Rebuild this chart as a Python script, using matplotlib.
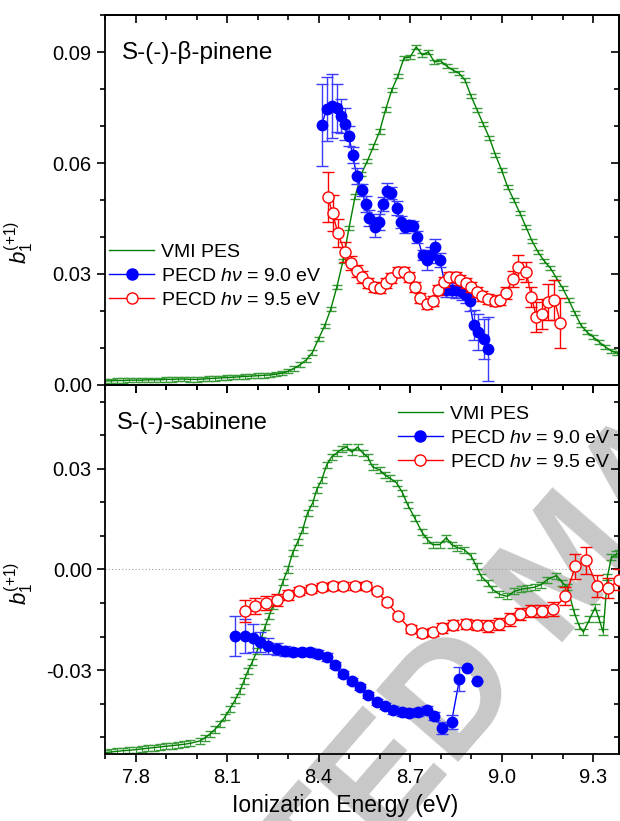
import matplotlib
matplotlib.use('Agg')
import matplotlib.pyplot as plt
from matplotlib.ticker import MultipleLocator, FormatStrFormatter
from matplotlib.lines import Line2D

plt.rcParams['font.family'] = ['Liberation Sans', 'DejaVu Sans']
plt.rcParams['mathtext.fontset'] = 'custom'
plt.rcParams['mathtext.rm'] = 'Liberation Sans'
plt.rcParams['mathtext.it'] = 'Liberation Sans:italic'
plt.rcParams['axes.unicode_minus'] = False

# ---- top panel: S-(-)-beta-pinene ----
pes_top_e = [7.70, 7.72, 7.74, 7.76, 7.78, 7.80, 7.82, 7.84, 7.86, 7.88, 7.90, 7.92,
             7.94, 7.96, 7.98, 8.00, 8.02, 8.04, 8.06, 8.08, 8.10, 8.12, 8.14, 8.16,
             8.18, 8.20, 8.22, 8.24, 8.26, 8.28, 8.30, 8.32, 8.34, 8.36, 8.38, 8.40,
             8.42, 8.44, 8.46, 8.48, 8.50, 8.52, 8.54, 8.56, 8.58, 8.60, 8.62, 8.64,
             8.66, 8.68, 8.70, 8.72, 8.74, 8.76, 8.78, 8.80, 8.82, 8.84, 8.86, 8.88,
             8.90, 8.92, 8.94, 8.96, 8.98, 9.00, 9.02, 9.04, 9.06, 9.08, 9.10, 9.12,
             9.14, 9.16, 9.18, 9.20, 9.22, 9.24, 9.26, 9.28, 9.30, 9.32, 9.34, 9.36,
             9.38]
pes_top = [0.0011, 0.0011, 0.0012, 0.0012, 0.0013, 0.0013, 0.0013, 0.0014, 0.0014,
           0.0014, 0.0015, 0.0015, 0.0016, 0.0016, 0.0015, 0.0015, 0.0016, 0.0017,
           0.0018, 0.0019, 0.0020, 0.0021, 0.0022, 0.0023, 0.0024, 0.0025, 0.0026,
           0.0027, 0.0029, 0.0032, 0.0037, 0.0045, 0.0055, 0.0068, 0.0088, 0.0125,
           0.0160, 0.0205, 0.0265, 0.0335, 0.0425, 0.0510, 0.0570, 0.0605, 0.0645,
           0.0685, 0.0745, 0.0797, 0.0835, 0.0884, 0.0886, 0.0914, 0.0892, 0.0900,
           0.0873, 0.0876, 0.0862, 0.0851, 0.0843, 0.0824, 0.0781, 0.0743, 0.0705,
           0.0668, 0.0622, 0.0581, 0.0535, 0.0500, 0.0465, 0.0427, 0.0389, 0.0359,
           0.0335, 0.0316, 0.0289, 0.0262, 0.0230, 0.0195, 0.0162, 0.0143, 0.0130,
           0.0116, 0.0103, 0.0092, 0.0086]
pes_top_err = 0.0006

b90_top_e = [8.410, 8.427, 8.443, 8.459, 8.473, 8.486, 8.499, 8.512, 8.525, 8.541,
             8.554, 8.567, 8.584, 8.597, 8.610, 8.623, 8.639, 8.656, 8.669, 8.682,
             8.698, 8.711, 8.724, 8.741, 8.754, 8.770, 8.783, 8.797, 8.819, 8.836,
             8.852, 8.869, 8.882, 8.895, 8.908, 8.924, 8.941, 8.954]
b90_top = [0.0703, 0.0746, 0.0754, 0.0749, 0.0727, 0.0705, 0.0673, 0.0622, 0.0565,
           0.0527, 0.0489, 0.0451, 0.0427, 0.0441, 0.0489, 0.0524, 0.0519, 0.0478,
           0.0441, 0.0427, 0.0432, 0.0430, 0.0400, 0.0351, 0.0338, 0.0351, 0.0373,
           0.0338, 0.0257, 0.0257, 0.0257, 0.0251, 0.0243, 0.0227, 0.0162, 0.0143,
           0.0124, 0.0097]
b90_top_err = [0.0111, 0.0086, 0.0086, 0.0065, 0.0046, 0.0043, 0.0027, 0.0022, 0.0022,
               0.0016, 0.0022, 0.0022, 0.0027, 0.0022, 0.0019, 0.0022, 0.0016, 0.0019,
               0.0016, 0.0016, 0.0014, 0.0014, 0.0016, 0.0014, 0.0027, 0.0022, 0.0022,
               0.0019, 0.0019, 0.0019, 0.0022, 0.0022, 0.0022, 0.0027, 0.0040, 0.0049,
               0.0054, 0.0086]

b95_top_e = [8.430, 8.446, 8.463, 8.486, 8.505, 8.525, 8.541, 8.561, 8.581, 8.600,
             8.620, 8.639, 8.659, 8.679, 8.695, 8.715, 8.734, 8.754, 8.774, 8.790,
             8.810, 8.829, 8.849, 8.865, 8.885, 8.901, 8.921, 8.937, 8.957, 8.977,
             8.996, 9.016, 9.036, 9.055, 9.081, 9.098, 9.114, 9.134, 9.153, 9.173,
             9.193]
b95_top = [0.0508, 0.0465, 0.0411, 0.0359, 0.0330, 0.0308, 0.0292, 0.0276, 0.0265,
           0.0262, 0.0276, 0.0289, 0.0305, 0.0305, 0.0292, 0.0265, 0.0235, 0.0219,
           0.0227, 0.0257, 0.0278, 0.0292, 0.0292, 0.0284, 0.0276, 0.0265, 0.0251,
           0.0241, 0.0232, 0.0227, 0.0230, 0.0249, 0.0286, 0.0319, 0.0305, 0.0238,
           0.0184, 0.0192, 0.0224, 0.0230, 0.0168]
b95_top_err = [0.0068, 0.0049, 0.0038, 0.0027, 0.0019, 0.0016, 0.0016, 0.0014, 0.0014,
               0.0014, 0.0014, 0.0014, 0.0014, 0.0014, 0.0014, 0.0014, 0.0014, 0.0014,
               0.0014, 0.0014, 0.0014, 0.0014, 0.0014, 0.0014, 0.0014, 0.0014, 0.0014,
               0.0014, 0.0014, 0.0014, 0.0014, 0.0016, 0.0022, 0.0032, 0.0027, 0.0027,
               0.0041, 0.0041, 0.0049, 0.0054, 0.0068]

# ---- bottom panel: S-(-)-sabinene ----
pes_bot_e = [7.70, 7.72, 7.74, 7.76, 7.78, 7.80, 7.82, 7.84, 7.86, 7.88, 7.90, 7.92,
             7.94, 7.96, 7.98, 8.011, 8.027, 8.044, 8.060, 8.076, 8.093, 8.109, 8.126,
             8.142, 8.155, 8.168, 8.183, 8.198, 8.211, 8.224, 8.237, 8.250, 8.263,
             8.283, 8.299, 8.315, 8.332, 8.348, 8.364, 8.381, 8.394, 8.410, 8.427,
             8.443, 8.459, 8.476, 8.492, 8.509, 8.528, 8.545, 8.561, 8.577, 8.600,
             8.617, 8.633, 8.656, 8.675, 8.692, 8.715, 8.738, 8.757, 8.774, 8.797,
             8.819, 8.836, 8.855, 8.878, 8.901, 8.918, 8.934, 8.954, 8.970, 8.993,
             9.019, 9.042, 9.065, 9.085, 9.108, 9.130, 9.150, 9.180, 9.199, 9.216,
             9.238, 9.255, 9.268, 9.288, 9.307, 9.320, 9.333, 9.347, 9.360, 9.376,
             9.386]
pes_bot = [-0.0546, -0.0544, -0.0542, -0.0540, -0.0539, -0.0537, -0.0535, -0.0533,
           -0.0531, -0.0529, -0.0527, -0.0525, -0.0523, -0.0521, -0.0518, -0.0511,
           -0.0502, -0.0490, -0.0477, -0.0460, -0.0440, -0.0416, -0.0390, -0.0362,
           -0.0333, -0.0303, -0.0275, -0.0244, -0.0210, -0.0172, -0.0140, -0.0110,
           -0.0089, -0.0036, 0.0000, 0.0050, 0.0083, 0.0119, 0.0169, 0.0199, 0.0238,
           0.0267, 0.0312, 0.0336, 0.0347, 0.0359, 0.0365, 0.0350, 0.0365, 0.0347,
           0.0336, 0.0306, 0.0297, 0.0282, 0.0273, 0.0258, 0.0229, 0.0193, 0.0154,
           0.0113, 0.0089, 0.0074, 0.0074, 0.0095, 0.0074, 0.0065, 0.0059, 0.0039,
           0.0009, -0.0021, -0.0039, -0.0059, -0.0074, -0.0080, -0.0065, -0.0059,
           -0.0056, -0.0053, -0.0045, -0.0030, -0.0018, -0.0039, -0.0053, -0.0128,
           -0.0169, -0.0187, -0.0149, -0.0113, -0.0149, -0.0187, -0.0021, 0.0036,
           0.0045, 0.0048]
pes_bot_err = 0.0009

b90_bot_e = [8.126, 8.158, 8.184, 8.207, 8.234, 8.263, 8.289, 8.315, 8.345, 8.371,
             8.397, 8.427, 8.453, 8.479, 8.509, 8.535, 8.561, 8.590, 8.617, 8.643,
             8.672, 8.698, 8.725, 8.754, 8.780, 8.806, 8.836, 8.862, 8.888, 8.918]
b90_bot = [-0.0199, -0.0199, -0.0205, -0.0217, -0.0229, -0.0238, -0.0244, -0.0247,
           -0.0247, -0.0247, -0.0252, -0.0261, -0.0285, -0.0312, -0.0333, -0.0350,
           -0.0374, -0.0395, -0.0407, -0.0419, -0.0425, -0.0428, -0.0425, -0.0419,
           -0.0437, -0.0472, -0.0454, -0.0327, -0.0294, -0.0333]
b90_bot_err = [0.0059, 0.0050, 0.0042, 0.0030, 0.0024, 0.0018, 0.0015, 0.0012, 0.0012,
               0.0012, 0.0012, 0.0012, 0.0009, 0.0009, 0.0009, 0.0009, 0.0009, 0.0009,
               0.0009, 0.0012, 0.0012, 0.0012, 0.0012, 0.0012, 0.0012, 0.0018, 0.0021,
               0.0036, 0.0, 0.0]
b90_bot_nline = 28   # last two points are not joined by the line

b95_bot_e = [8.158, 8.191, 8.227, 8.263, 8.299, 8.335, 8.374, 8.410, 8.446, 8.479,
             8.518, 8.554, 8.590, 8.626, 8.662, 8.702, 8.738, 8.774, 8.806, 8.842,
             8.882, 8.918, 8.954, 8.990, 9.026, 9.062, 9.098, 9.134, 9.170, 9.209,
             9.242, 9.278, 9.314, 9.350, 9.386]
b95_bot = [-0.0125, -0.0110, -0.0101, -0.0092, -0.0077, -0.0065, -0.0059, -0.0053,
           -0.0050, -0.0048, -0.0048, -0.0050, -0.0065, -0.0098, -0.0140, -0.0178,
           -0.0190, -0.0187, -0.0175, -0.0166, -0.0163, -0.0166, -0.0169, -0.0163,
           -0.0149, -0.0134, -0.0125, -0.0125, -0.0119, -0.0080, 0.0009, 0.0027,
           -0.0050, -0.0056, -0.0030]
b95_bot_err = [0.0033, 0.0024, 0.0021, 0.0018, 0.0015, 0.0012, 0.0012, 0.0012, 0.0012,
               0.0012, 0.0012, 0.0012, 0.0009, 0.0009, 0.0009, 0.0012, 0.0012, 0.0012,
               0.0015, 0.0015, 0.0015, 0.0015, 0.0018, 0.0018, 0.0018, 0.0018, 0.0018,
               0.0018, 0.0021, 0.0027, 0.0036, 0.0039, 0.0033, 0.0030, 0.0030]

labels = ['VMI PES', r'PECD $h\nu$ = 9.0 eV', r'PECD $h\nu$ = 9.5 eV']
titles = ['S-(-)-β-pinene', 'S-(-)-sabinene']

GREEN = '#008000'
BLUE = '#0000ff'
RED = '#ff0000'

fig = plt.figure(figsize=(6.2, 8.21), dpi=100)
ax1 = fig.add_axes([0.1694, 0.5311, 0.8290, 0.4506])
ax2 = fig.add_axes([0.1694, 0.0816, 0.8290, 0.4495])
for ax in (ax1, ax2):
    ax.patch.set_alpha(0)

# watermark behind the data (mostly outside the canvas, as in the original)
fig.text(0.922, 0.305, 'ACCEPTED MANUSCRIPT', rotation=49, fontsize=114,
         fontweight='bold', color='#c8c8c8', ha='center', va='center',
         rotation_mode='anchor', zorder=-5)


def draw(ax, pe, py, perr, be, by, berr, re, ry, rerr, nline=None):
    nline = len(be) if nline is None else nline
    ax.errorbar(pe, py, yerr=perr, color=GREEN, lw=1.0, ecolor='#3c9c3c',
                elinewidth=0.8, capsize=3.5, capthick=1.0, zorder=2)
    ax.plot(be[:nline], by[:nline], color=BLUE, lw=1.0, zorder=3)
    ax.errorbar(be, by, yerr=berr, ls='none', marker='o', ms=7.5,
                mfc=BLUE, mec=BLUE, ecolor='#3c3cff', elinewidth=1.0,
                capsize=4, capthick=1.0, zorder=3)
    ax.errorbar(re, ry, yerr=rerr, color=RED, lw=1.0, marker='o', ms=8,
                mfc='white', mec=RED, mew=1.0, ecolor=RED, elinewidth=1.0,
                capsize=4, capthick=1.0, zorder=4)


draw(ax1, pes_top_e, pes_top, pes_top_err, b90_top_e, b90_top, b90_top_err,
     b95_top_e, b95_top, b95_top_err)
draw(ax2, pes_bot_e, pes_bot, pes_bot_err, b90_bot_e, b90_bot, b90_bot_err,
     b95_bot_e, b95_bot, b95_bot_err, nline=b90_bot_nline)

ax2.axhline(0, color='#a0a0a0', lw=0.8, ls=(0, (1, 2)), zorder=1)

ax1.set_ylim(0, 0.1)
ax2.set_ylim(-0.055, 0.055)
for ax in (ax1, ax2):
    ax.set_xlim(7.7, 9.385)
    ax.xaxis.set_major_locator(MultipleLocator(0.3))
    ax.xaxis.set_minor_locator(MultipleLocator(0.1))
    ax.yaxis.set_major_locator(MultipleLocator(0.03))
    ax.yaxis.set_minor_locator(MultipleLocator(0.01))
    ax.yaxis.set_major_formatter(FormatStrFormatter('%.2f'))
    ax.xaxis.set_major_formatter(FormatStrFormatter('%.1f'))
    for s in ax.spines.values():
        s.set_linewidth(1.3)
    # left/bottom ticks point outward
    ax.tick_params(which='both', width=1.2, labelsize=14.5, direction='out',
                   left=True, bottom=True, right=False, top=False)
    ax.tick_params(which='major', length=6)
    ax.tick_params(which='minor', length=3.5)
    ax.tick_params(axis='x', pad=4)

    # right/top ticks point inward
    sec = ax.secondary_yaxis('right')
    sec.yaxis.set_major_locator(MultipleLocator(0.03))
    sec.yaxis.set_minor_locator(MultipleLocator(0.01))
    sec.tick_params(which='both', direction='in', width=1.2, labelright=False)
    sec.tick_params(which='major', length=6)
    sec.tick_params(which='minor', length=3.5)
    sec.spines['right'].set_linewidth(1.3)
    secx = ax.secondary_xaxis('top')
    secx.xaxis.set_major_locator(MultipleLocator(0.3))
    secx.xaxis.set_minor_locator(MultipleLocator(0.1))
    secx.tick_params(which='both', direction='in', width=1.2, labeltop=False)
    secx.tick_params(which='major', length=6)
    secx.tick_params(which='minor', length=3.5)
    secx.spines['top'].set_linewidth(1.3)

ax1.tick_params(axis='x', labelbottom=False)
ax2.set_xlabel('Ionization Energy (eV)', fontsize=16.5)
ax2.xaxis.set_label_coords(0.467, -0.108)

for ax, yl in ((ax1, 0.384), (ax2, 0.463)):
    ax.set_ylabel(r'$b_1^{(+1)}$', fontsize=16, labelpad=0)
    ax.yaxis.set_label_coords(-0.135, yl)

ax1.text(0.033, 0.90, titles[0], transform=ax1.transAxes, fontsize=17.5,
         ha='left', va='center')
ax2.text(0.023, 0.897, titles[1], transform=ax2.transAxes, fontsize=17,
         ha='left', va='center')

handles = [Line2D([], [], color=GREEN, lw=1.0),
           Line2D([], [], color=BLUE, lw=1.0, marker='o', ms=8, mfc=BLUE, mec=BLUE),
           Line2D([], [], color=RED, lw=1.0, marker='o', ms=8, mfc='white', mec=RED)]
leg_kw = dict(frameon=False, fontsize=14, handlelength=2.3, handletextpad=0.35,
              labelspacing=0.32, borderaxespad=0, borderpad=0)
ax1.legend(handles, labels, loc='upper left', bbox_to_anchor=(0.008, 0.383), **leg_kw)
ax2.legend(handles, labels, loc='upper left', bbox_to_anchor=(0.570, 0.945), **leg_kw)

fig.savefig('out.png', dpi=100)
